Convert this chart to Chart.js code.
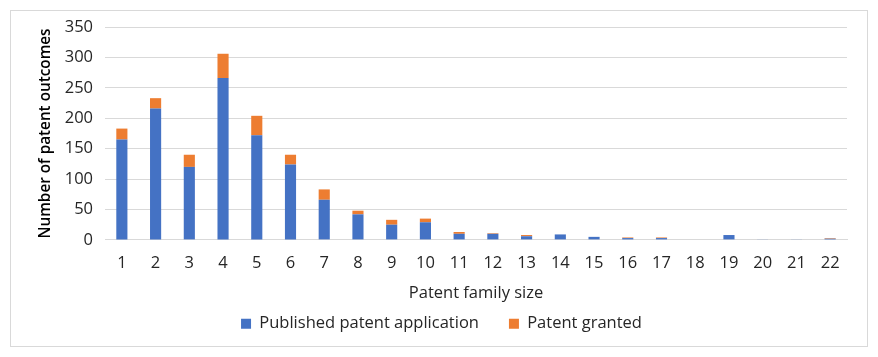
<!DOCTYPE html>
<html><head><meta charset="utf-8">
<script src="https://cdn.jsdelivr.net/npm/chart.js@4/dist/chart.umd.min.js"></script>
<style>
html,body{margin:0;padding:0;background:#fff;}
#frame{position:absolute;left:10px;top:10px;width:856px;height:335px;border:1px solid #d9d9d9;}
#wrap{position:absolute;left:0;top:0;width:878px;height:357px;}
</style></head>
<body>
<div id="frame"></div>
<div id="wrap"><canvas id="c" width="878" height="357"></canvas></div>
<script>
const categories = ['1','2','3','4','5','6','7','8','9','10','11','12','13','14','15','16','17','18','19','20','21','22'];
const published = [165,216,120,266,172,124,66,42,25,29,10,10,6,9,5,3,3,0,8,1,1,2];
const granted   = [18,17,20,40,32,16,17,6,8,6,3,1,2,0,0,1,1,0,0,0,0,1];
const yTicks = [0,50,100,150,200,250,300,350];

const font = {family: "'Open Sans', sans-serif", size: 16.5};
new Chart(document.getElementById('c'), {
  type: 'bar',
  data: {
    labels: categories,
    datasets: [
      {label: 'Published patent application', data: published, backgroundColor: '#4472C4', barPercentage: 0.33, categoryPercentage: 1},
      {label: 'Patent granted', data: granted, backgroundColor: '#ED7D31', barPercentage: 0.33, categoryPercentage: 1}
    ]
  },
  options: {
    responsive: false,
    animation: false,
    layout: {padding: {left: 36, right: 31, top: 27, bottom: 15}},
    plugins: {
      legend: {position: 'bottom', labels: {font: font, color: '#262626', boxWidth: 10, boxHeight: 10, padding: 30}},
      tooltip: {enabled: false}
    },
    scales: {
      x: {
        stacked: true,
        grid: {display: false},
        border: {display: true, color: '#d9d9d9'},
        ticks: {font: font, color: '#262626', padding: 5, maxRotation: 0},
        title: {display: true, text: 'Patent family size', font: font, color: '#262626', padding: {top: 6, bottom: -18}}
      },
      y: {
        stacked: true,
        min: 0, max: 350,
        afterBuildTicks: s => { s.ticks = yTicks.map(v => ({value: v})); },
        afterFit: s => { s.width = 69; },
        grid: {color: '#d9d9d9', lineWidth: 1, drawTicks: false},
        border: {display: false},
        ticks: {font: font, color: '#262626', padding: 12},
        title: {display: true, text: 'Number of patent outcomes', font: {family: "'Open Sans', sans-serif", size: 15.3, weight: '600'}, color: '#000', padding: {top: 0, bottom: 0}}
      }
    }
  }
});
</script>
</body></html>
